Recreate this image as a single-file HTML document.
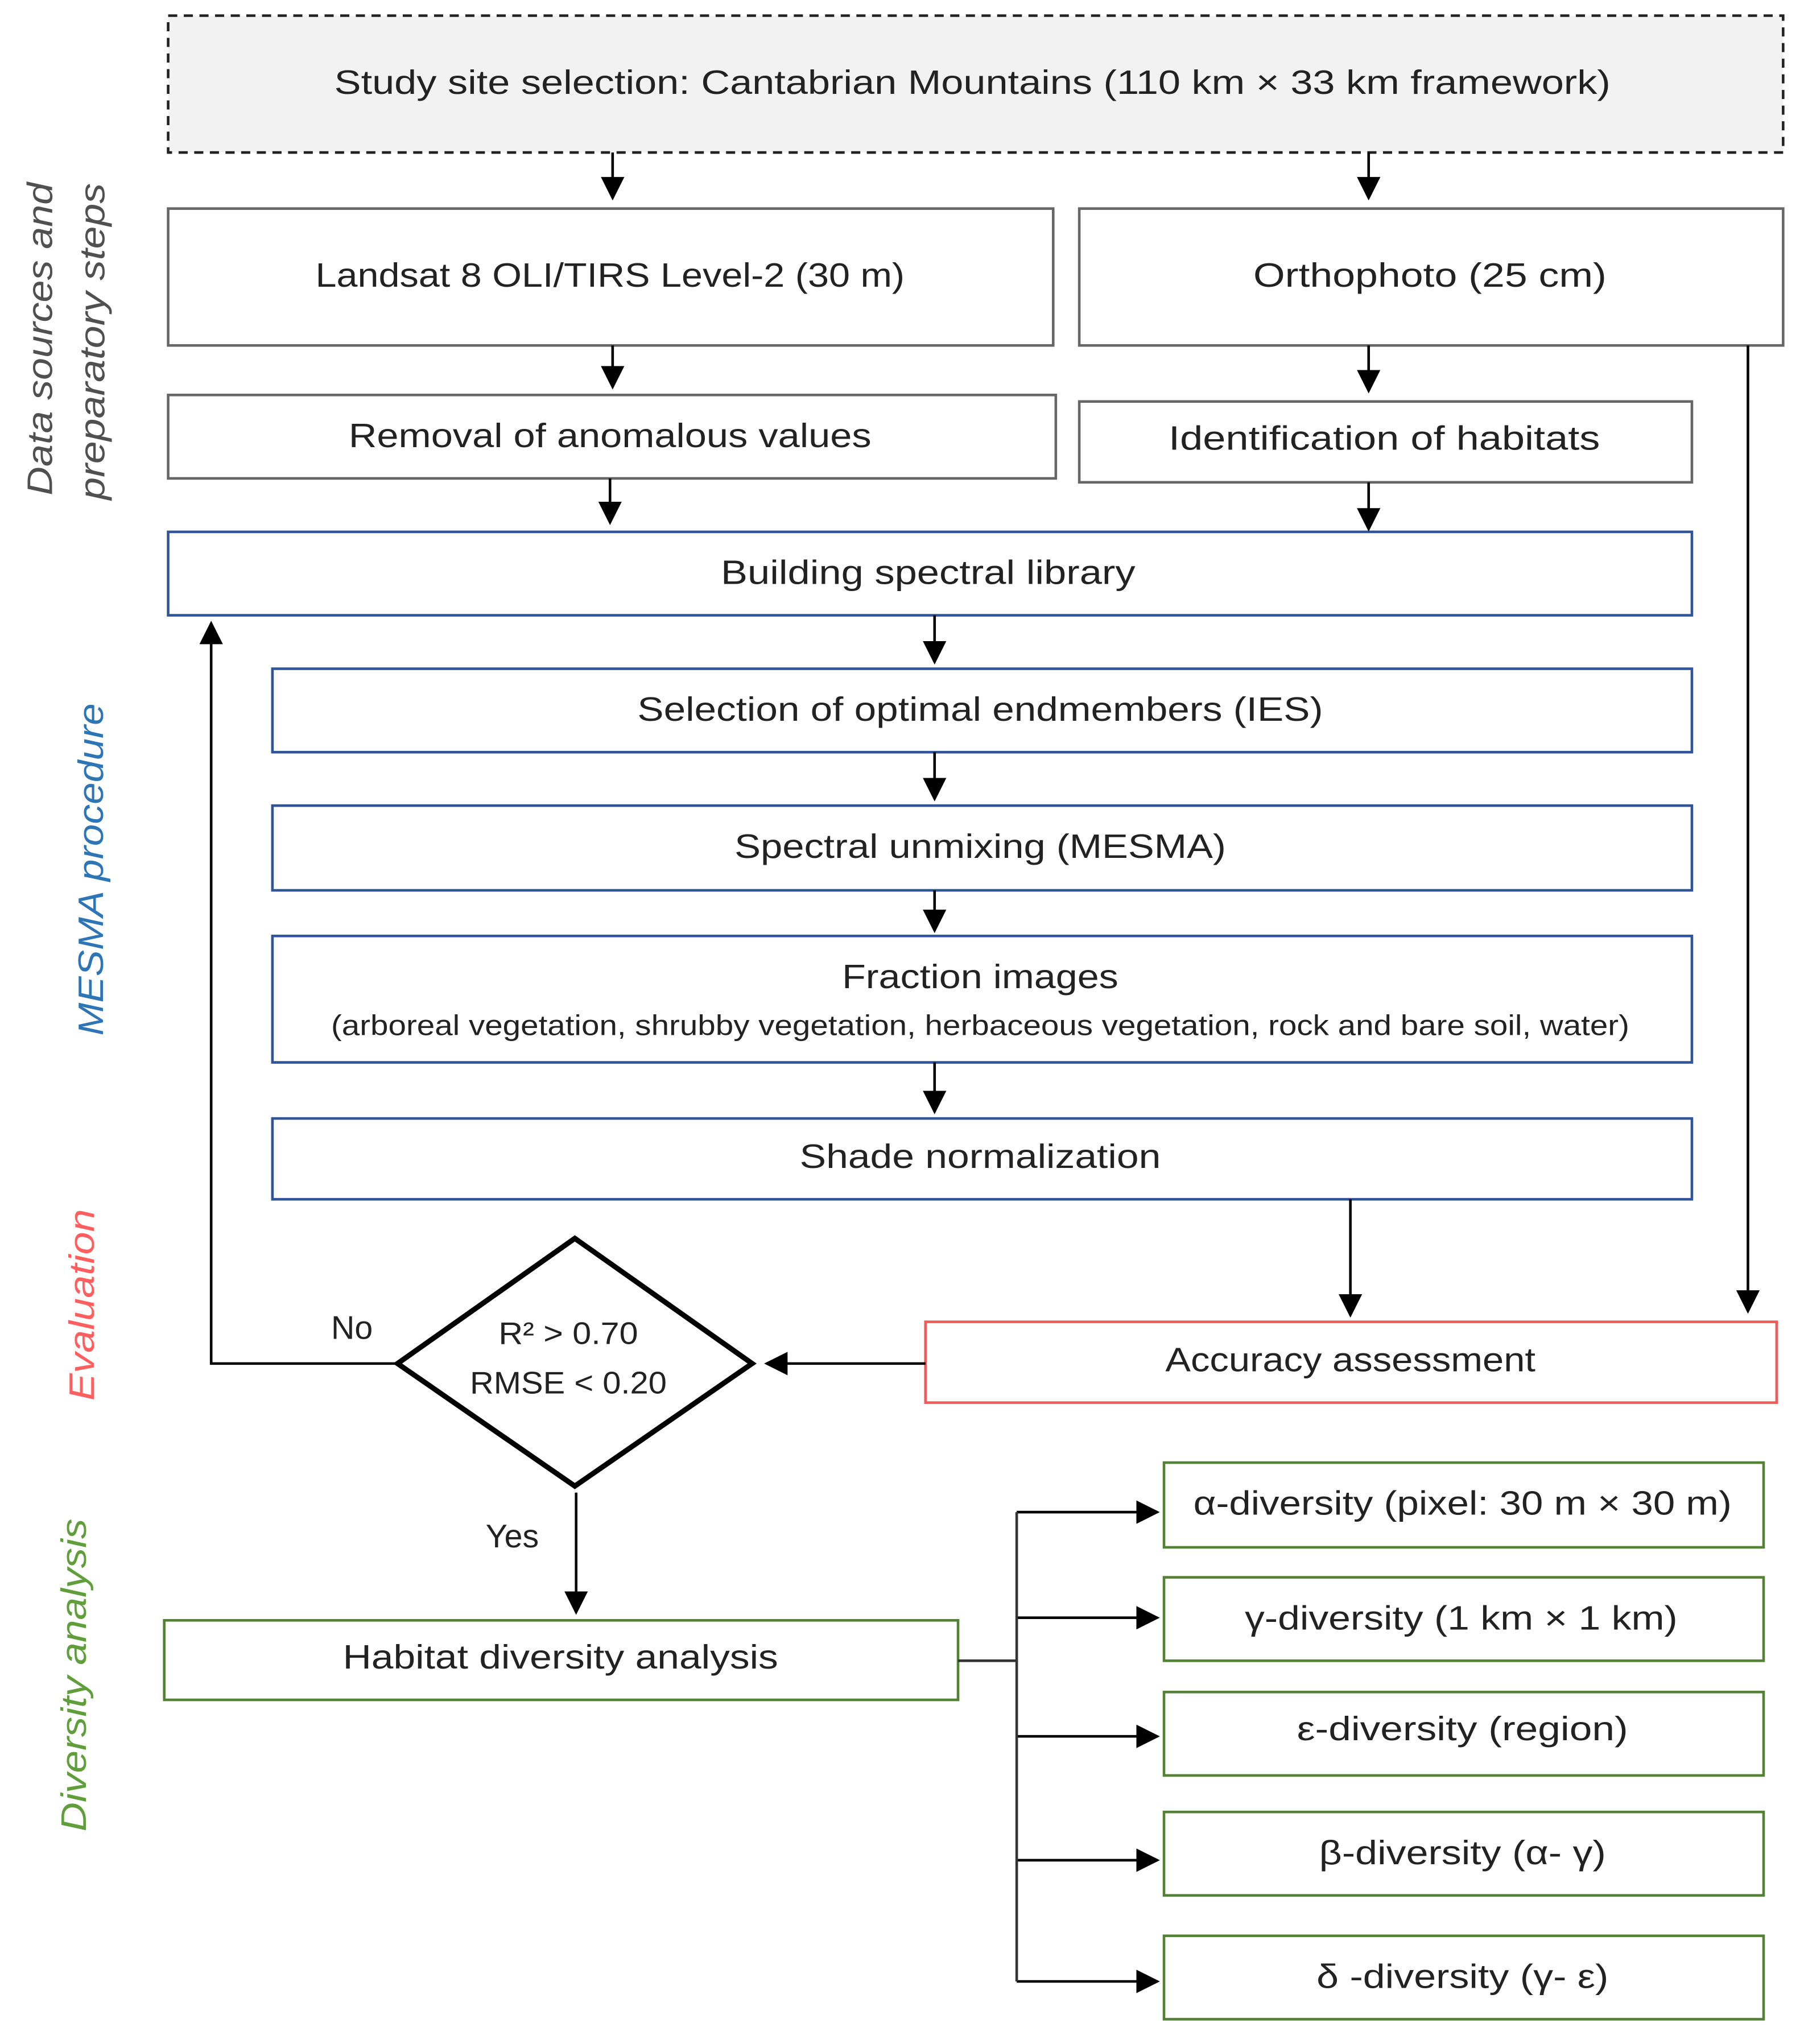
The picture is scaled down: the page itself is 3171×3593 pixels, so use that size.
<!DOCTYPE html>
<html><head><meta charset="utf-8"><style>html,body{margin:0;padding:0;background:#fff}svg{display:block}text{}</style></head><body>
<svg width="3171" height="3593" viewBox="0 0 1384 1568" preserveAspectRatio="none" xmlns="http://www.w3.org/2000/svg" font-family="Liberation Sans, sans-serif">
<defs><marker id="b" viewBox="0 0 10 10" refX="9" refY="5" markerWidth="18" markerHeight="18" markerUnits="userSpaceOnUse" orient="auto"><path d="M0,0L10,5L0,10z" fill="#000"/></marker></defs>
<g font-size="26" fill="#222" text-anchor="middle">
<rect x="129" y="12" width="1239" height="105" fill="#f2f2f2" stroke="#222" stroke-width="2" stroke-dasharray="7,5"/>
<text x="746" y="72" textLength="979" lengthAdjust="spacingAndGlyphs">Study site selection: Cantabrian Mountains (110 km × 33 km framework)</text>
<g fill="#fff" stroke="#666" stroke-width="2">
<rect x="129" y="160" width="679" height="105"/><rect x="828" y="160" width="540" height="105"/>
<rect x="129" y="303" width="681" height="64"/><rect x="828" y="308" width="470" height="62"/>
</g>
<text x="468" y="220" textLength="452" lengthAdjust="spacingAndGlyphs">Landsat 8 OLI/TIRS Level-2 (30 m)</text>
<text x="1097" y="220" textLength="271" lengthAdjust="spacingAndGlyphs">Orthophoto (25 cm)</text>
<text x="468" y="343" textLength="401" lengthAdjust="spacingAndGlyphs">Removal of anomalous values</text>
<text x="1062" y="345" textLength="331" lengthAdjust="spacingAndGlyphs">Identification of habitats</text>
<g fill="#fff" stroke="#2f5597" stroke-width="2">
<rect x="129" y="408" width="1169" height="64"/><rect x="209" y="513" width="1089" height="64"/>
<rect x="209" y="618" width="1089" height="65"/><rect x="209" y="718" width="1089" height="97"/>
<rect x="209" y="858" width="1089" height="62"/>
</g>
<text x="712" y="448" textLength="318" lengthAdjust="spacingAndGlyphs">Building spectral library</text>
<text x="752" y="553" textLength="526" lengthAdjust="spacingAndGlyphs">Selection of optimal endmembers (IES)</text>
<text x="752" y="658" textLength="377" lengthAdjust="spacingAndGlyphs">Spectral unmixing (MESMA)</text>
<text x="752" y="758" textLength="212" lengthAdjust="spacingAndGlyphs">Fraction images</text>
<text x="752" y="794" font-size="22" textLength="996" lengthAdjust="spacingAndGlyphs">(arboreal vegetation, shrubby vegetation, herbaceous vegetation, rock and bare soil, water)</text>
<text x="752" y="896" textLength="277" lengthAdjust="spacingAndGlyphs">Shade normalization</text>
<rect x="710" y="1014" width="653" height="62" fill="#fff" stroke="#f05a5a" stroke-width="2"/>
<text x="1036" y="1052" textLength="284" lengthAdjust="spacingAndGlyphs">Accuracy assessment</text>
<polygon points="305,1046 441,950 577,1046 441,1140" fill="#fff" stroke="#000" stroke-width="4"/>
<text x="436" y="1031" font-size="24" textLength="107" lengthAdjust="spacingAndGlyphs">R² &gt; 0.70</text>
<text x="436" y="1069" font-size="24" textLength="151" lengthAdjust="spacingAndGlyphs">RMSE &lt; 0.20</text>
<text x="270" y="1027" font-size="25">No</text>
<text x="393" y="1187" font-size="25">Yes</text>
<g fill="#fff" stroke="#548235" stroke-width="2">
<rect x="126" y="1243" width="609" height="61"/>
<rect x="893" y="1122" width="460" height="65"/><rect x="893" y="1210" width="460" height="64"/>
<rect x="893" y="1298" width="460" height="64"/><rect x="893" y="1390" width="460" height="64"/>
<rect x="893" y="1485" width="460" height="64"/>
</g>
<text x="430" y="1280" textLength="334" lengthAdjust="spacingAndGlyphs">Habitat diversity analysis</text>
<text x="1122" y="1162" textLength="413" lengthAdjust="spacingAndGlyphs">α-diversity (pixel: 30 m × 30 m)</text>
<text x="1121" y="1250" textLength="332" lengthAdjust="spacingAndGlyphs">γ-diversity (1 km × 1 km)</text>
<text x="1122" y="1335" textLength="254" lengthAdjust="spacingAndGlyphs">ε-diversity (region)</text>
<text x="1122" y="1430" textLength="220" lengthAdjust="spacingAndGlyphs">β-diversity (α- γ)</text>
<text x="1122" y="1525" textLength="224" lengthAdjust="spacingAndGlyphs">δ -diversity (γ- ε)</text>
</g>
<g stroke="#000" stroke-width="2" fill="none" marker-end="url(#b)">
<path d="M470 117V152"/><path d="M1050 117V152"/>
<path d="M470 265V297"/><path d="M1050 265V300"/>
<path d="M468 367V401"/><path d="M1050 370V406"/>
<path d="M717 472V508"/><path d="M717 577V613"/><path d="M717 683V714"/><path d="M717 815V853"/>
<path d="M1036 920V1009"/><path d="M1341 265V1006"/>
<path d="M710 1046H588"/>
<path d="M305 1046H162V478"/>
<path d="M442 1145V1237"/>
<path d="M780 1160H888"/><path d="M780 1241H888"/><path d="M780 1332H888"/><path d="M780 1427H888"/><path d="M780 1520H888"/>
</g>
<path d="M735 1274H780M780 1160V1520" stroke="#333" stroke-width="2" fill="none"/>
<g font-style="italic" font-size="27" text-anchor="middle">
<text transform="translate(40,260) rotate(-90)" fill="#505050" textLength="240" lengthAdjust="spacingAndGlyphs">Data sources and</text>
<text transform="translate(80,262) rotate(-90)" fill="#505050" textLength="243" lengthAdjust="spacingAndGlyphs">preparatory steps</text>
<text transform="translate(79,667) rotate(-90)" fill="#2e75b6" textLength="255" lengthAdjust="spacingAndGlyphs">MESMA procedure</text>
<text transform="translate(72,1001) rotate(-90)" fill="#ff5f5f" textLength="147" lengthAdjust="spacingAndGlyphs">Evaluation</text>
<text transform="translate(66,1285) rotate(-90)" fill="#5f9e3a" textLength="240" lengthAdjust="spacingAndGlyphs">Diversity analysis</text>
</g>
</svg>
</body></html>
